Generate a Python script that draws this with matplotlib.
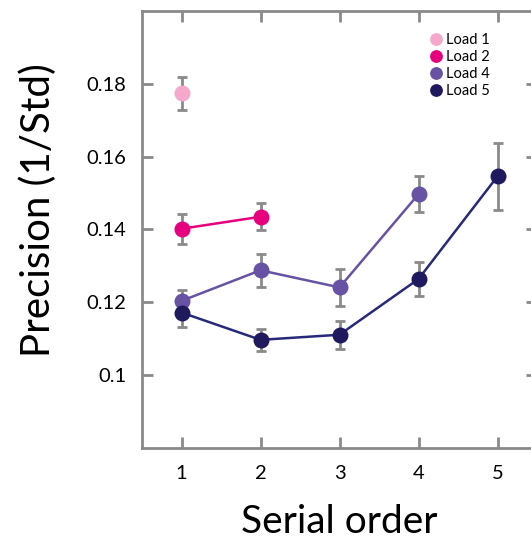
import matplotlib
matplotlib.use('Agg')
import matplotlib.pyplot as plt

plt.rcParams['font.family'] = ['Lato', 'DejaVu Sans']

# serial positions and precision (1/Std) with standard errors
x_load1 = [1]
y_load1 = [0.1774]
e_load1 = [0.0045]

x_load2 = [1, 2]
y_load2 = [0.1402, 0.1435]
e_load2 = [0.0041, 0.0037]

x_load4 = [1, 2, 3, 4]
y_load4 = [0.1204, 0.1288, 0.1241, 0.1497]
e_load4 = [0.0030, 0.0046, 0.0050, 0.0049]

x_load5 = [1, 2, 3, 4, 5]
y_load5 = [0.1172, 0.1097, 0.1111, 0.1264, 0.1546]
e_load5 = [0.0040, 0.0030, 0.0039, 0.0047, 0.0092]

yticks = [0.10, 0.12, 0.14, 0.16, 0.18]
ytick_labels = ['0.1', '0.12', '0.14', '0.16', '0.18']
xticks = [1, 2, 3, 4, 5]

series = [
    ('Load 1', x_load1, y_load1, e_load1, '#f4a8cb', '#f4a8cb'),
    ('Load 2', x_load2, y_load2, e_load2, '#e6007e', '#e6007e'),
    ('Load 4', x_load4, y_load4, e_load4, '#6752a3', '#6752a3'),
    ('Load 5', x_load5, y_load5, e_load5, '#1f1a5e', '#27297a'),
]

fig = plt.figure(figsize=(5.31, 5.45), dpi=100)
ax = fig.add_axes([142 / 531, 97 / 545, 395 / 531, 437 / 545])

gray = '#8a8a8a'
handles = []
for name, xs, ys, es, mc, lc in series:
    ax.errorbar(xs, ys, yerr=es, fmt='none', ecolor=gray, elinewidth=2,
                capsize=3.5, capthick=2, zorder=2)
    ax.plot(xs, ys, '-', color=lc, lw=1.8, zorder=3)
    h, = ax.plot(xs, ys, 'o', color=mc, markersize=11.5, markeredgewidth=0,
                 zorder=4, label=name)
    handles.append(h)

ax.set_xlim(0.5, 5.5)
ax.set_ylim(0.08, 0.2)
ax.set_xticks(xticks)
ax.set_xticklabels([str(v) for v in xticks])
ax.set_yticks(yticks)
ax.set_yticklabels(ytick_labels)

for s in ax.spines.values():
    s.set_color(gray)
    s.set_linewidth(2)
ax.tick_params(direction='in', length=8, width=2, color=gray,
               top=True, right=True, labelsize=14.5, pad=11)
ax.tick_params(axis='x', pad=12)

ax.set_xlabel('Serial order', fontsize=28, labelpad=16)
ax.set_ylabel('Precision (1/Std)', fontsize=29)
ax.yaxis.set_label_coords(-0.215, 0.545)

leg = ax.legend(handles=handles, loc='upper left',
                bbox_to_anchor=(0.69, 0.98), frameon=False, fontsize=10.5,
                handletextpad=0.05, labelspacing=0.2, markerscale=0.8,
                handlelength=1.2)

fig.savefig('out.png', dpi=100)
